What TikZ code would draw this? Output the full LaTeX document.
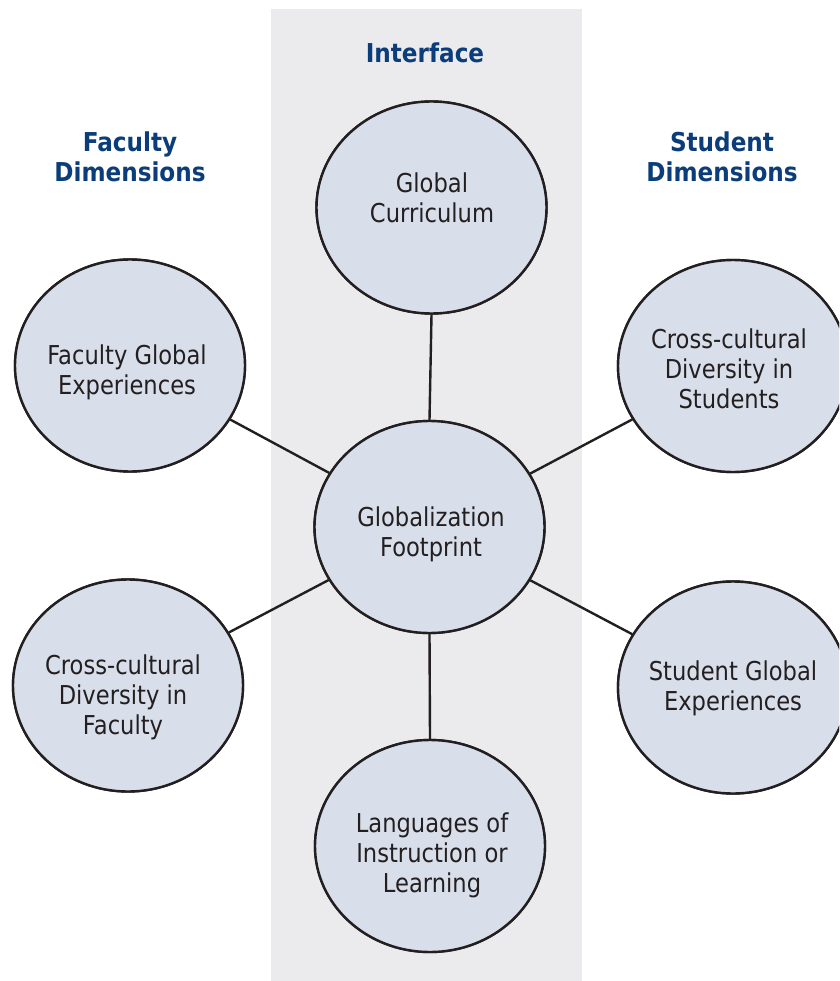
\documentclass[tikz,border=0pt]{standalone}
\usepackage{fontspec}
\setmainfont{DejaVu Sans}
\newfontfamily\bodyfont{DejaVu Sans}[FakeStretch=0.87]
\newfontfamily\titlefont{DejaVu Sans}[FakeStretch=0.89]
\usetikzlibrary{shapes.geometric}
\definecolor{bandgray}{HTML}{EBEBED}
\definecolor{circfill}{HTML}{D9DFEA}
\definecolor{titleblue}{HTML}{0B3D7A}
\definecolor{ink}{HTML}{231F20}
\tikzset{
  bubble/.style={ellipse, draw=ink, line width=2.4pt, fill=circfill,
    minimum width=230pt, minimum height=212pt, inner sep=0pt},
  bubbletext/.style={anchor=base, align=center, text=ink, inner sep=0pt,
    font=\bodyfont\fontsize{26}{30}\selectfont},
  header/.style={anchor=base, align=center, text=titleblue, inner sep=0pt,
    font=\titlefont\bfseries\fontsize{26}{30}\selectfont},
  link/.style={draw=ink, line width=2.4pt}
}
\begin{document}
\begin{tikzpicture}[x=1pt, y=-1pt]
\useasboundingbox (0,0) rectangle (839,981);
\clip (0,0) rectangle (839,981);
\fill[bandgray] (271,9) rectangle (582,981);

\node[header] (hint) at (425,62.7) {Interface};
\node[header] (hfac) at (130,182) {Faculty\\Dimensions};
\node[header] (hstu) at (722,182) {Student\\Dimensions};

\node[bubble] (gc) at (431.5,207.5) {};
\node[bubble] (gf) at (429.5,527) {};
\node[bubble] (fg) at (130,365.5) {};
\node[bubble] (cf) at (128,685.5) {};
\node[bubble] (cs) at (733,366) {};
\node[bubble] (sg) at (733,687.5) {};
\node[bubble] (lg) at (430,846) {};

\draw[link] (gc.south) -- (gf.north);
\draw[link] (gf.south) -- (lg.north);
\draw[link] (fg) -- (gf);
\draw[link] (cf) -- (gf);
\draw[link] (cs) -- (gf);
\draw[link] (sg) -- (gf);
% redraw circles over link ends
\node[bubble] at (gc) {};
\node[bubble] at (gf) {};
\node[bubble] at (fg) {};
\node[bubble] at (cf) {};
\node[bubble] at (cs) {};
\node[bubble] at (sg) {};
\node[bubble] at (lg) {};

\node[bubbletext] (tgc) at (432,223) {Global\\Curriculum};
\node[bubbletext] (tgf) at (431,556) {Globalization\\Footprint};
\node[bubbletext] (tfg) at (127,394) {Faculty Global\\Experiences};
\node[bubbletext] (tcf) at (123,734) {Cross-cultural\\Diversity in\\Faculty};
\node[bubbletext] (tcs) at (729,408) {Cross-cultural\\Diversity in\\Students};
\node[bubbletext] (tsg) at (733,710) {Student Global\\Experiences};
\node[bubbletext] (tlg) at (432,892) {Languages of\\Instruction or\\Learning};
\end{tikzpicture}
\end{document}
